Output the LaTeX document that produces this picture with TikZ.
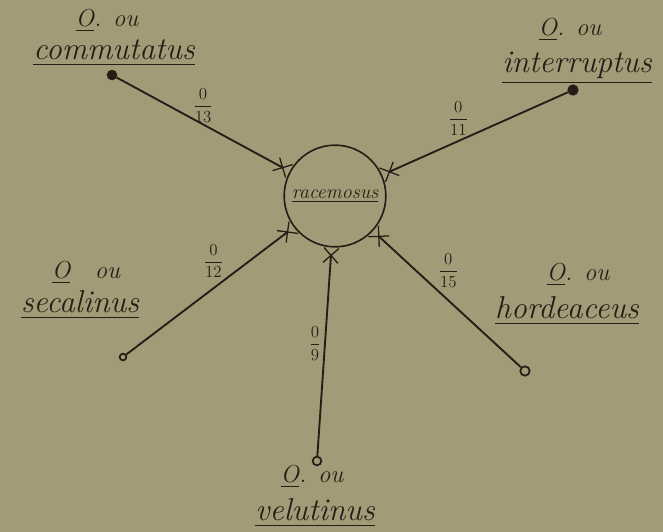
\documentclass[tikz,border=0pt]{standalone}
\usepackage{amsmath}
\usepackage{xcolor}
\usetikzlibrary{arrows.meta, positioning}
\definecolor{paper}{RGB}{161,155,119}
\definecolor{ink}{RGB}{38,30,22}

\begin{document}
\begin{tikzpicture}[
  x=0.03cm, y=-0.03cm,
  species/.style={text=ink, inner sep=0pt, font=\fontsize{27}{30}\selectfont\itshape},
  head/.style={text=ink, inner sep=0pt, font=\fontsize{21}{24}\selectfont\itshape},
  frac/.style={text=ink, inner sep=1pt, font=\fontsize{14}{16}\selectfont},
  pin/.style={circle, draw=ink, fill=ink, line width=1pt, inner sep=0pt, minimum size=#1},
  ring/.style={circle, draw=ink, fill=paper, line width=1.5pt, inner sep=0pt, minimum size=#1},
  conn/.style={draw=ink, line width=1.6pt, -{Rays[n=4, length=18pt, line width=1.1pt]}},
]
  \fill[paper] (0,0) rectangle (663,532);
  \useasboundingbox (0,0) rectangle (663,532);

  % racemosus
  \node[circle, draw=ink, line width=1.4pt, minimum size=3.05cm, inner sep=0pt] (rac) at (335,196) {};
  \node[text=ink, font=\fontsize{17}{19}\selectfont\itshape] (racname) at (rac.center) {\underline{racemosus}};

  % end points
  \node[pin=0.28cm] (cmdot) at (112,75) {};
  \node[pin=0.3cm] (indot) at (573,90) {};
  \node[ring=0.2cm] (sedot) at (123,357) {};
  \node[ring=0.28cm] (hodot) at (525,371) {};
  \node[ring=0.26cm] (vedot) at (317,461) {};

  % labels
  \node[head] (cmhead) at (107,21) {\underline{O}. ou};
  \node[species] (cmname) at (114,53) {\underline{commutatus}};
  \node[head] (inhead) at (570,30) {\underline{O}. ou};
  \node[species] (inname) at (577,68) {\underline{interruptus}};
  \node[head] (sehead) at (86,273) {\underline{O}\quad ou};
  \node[species] (sename) at (80,305) {\underline{secalinus}};
  \node[head] (hohead) at (578,275) {\underline{O}. ou};
  \node[species] (honame) at (567,311) {\underline{hordeaceus}};
  \node[head] (vehead) at (312,477) {\underline{O}. ou};
  \node[species] (vename) at (315,513) {\underline{velutinus}};

  % connectors
  \draw[conn] (cmdot) -- node[frac, pos=0.5, above=0pt] (cmfrac) {$\dfrac{0}{13}$} (rac);
  \draw[conn] (indot) -- node[frac, pos=0.59, above=3pt] (infrac) {$\dfrac{0}{11}$} (rac);
  \draw[conn] (sedot) -- node[frac, pos=0.52, above=7pt] (sefrac) {$\dfrac{0}{12}$} (rac);
  \draw[conn] (vedot) -- node[frac, pos=0.54, left=2pt] (vefrac) {$\dfrac{0}{9}$} (rac);
  \draw[conn] (hodot) -- node[frac, pos=0.57, above right=0pt] (hofrac) {$\dfrac{0}{15}$} (rac);
\end{tikzpicture}
\end{document}
